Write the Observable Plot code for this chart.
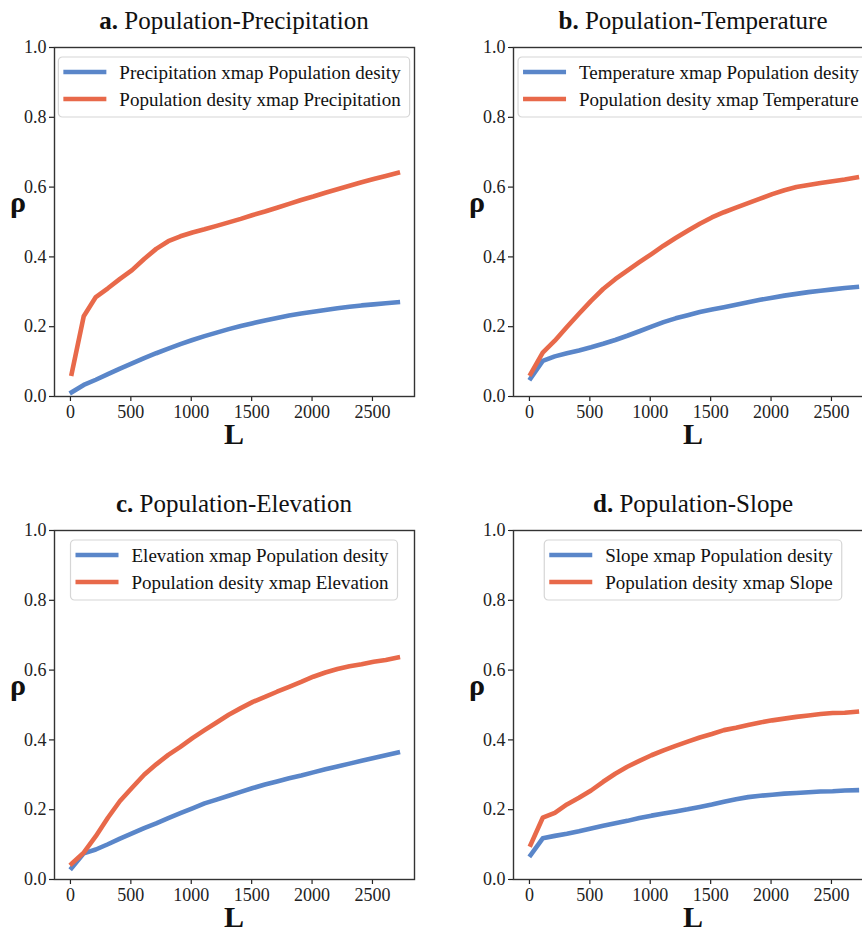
<!DOCTYPE html>
<html>
<head>
<meta charset="utf-8">
<script src="https://cdn.jsdelivr.net/npm/d3@7"></script>
<script src="https://cdn.jsdelivr.net/npm/@observablehq/plot@0.6"></script>
<style>
  html, body { margin: 0; padding: 0; background: #fff; }
  #root { position: relative; width: 862px; height: 933px; overflow: hidden; background: #fff; }
  #root > svg { position: absolute; }
</style>
</head>
<body>
<div id="root"></div>
<script>
// Lag L values
const L = [10,110,210,310,410,510,610,710,810,910,1010,1110,1210,1310,1410,1510,1610,1710,1810,1910,2010,2110,2210,2310,2410,2510,2610,2710];

const xTicks = [0, 500, 1000, 1500, 2000, 2500];
const yTicks = [0, 0.2, 0.4, 0.6, 0.8, 1.0];

// a. Population-Precipitation
const precipBlue = [0.012,0.033,0.048,0.064,0.080,0.095,0.110,0.124,0.137,0.150,0.162,0.173,0.183,0.193,0.202,0.210,0.218,0.225,0.232,0.238,0.243,0.248,0.253,0.257,0.261,0.264,0.267,0.270];
const precipOrange = [0.065,0.230,0.285,0.310,0.337,0.362,0.394,0.423,0.445,0.459,0.470,0.479,0.489,0.499,0.509,0.520,0.530,0.541,0.552,0.563,0.573,0.584,0.594,0.604,0.614,0.623,0.632,0.641];

// b. Population-Temperature
const tempBlue = [0.052,0.102,0.115,0.124,0.132,0.141,0.151,0.162,0.174,0.187,0.200,0.213,0.224,0.233,0.242,0.249,0.256,0.263,0.270,0.277,0.283,0.289,0.294,0.299,0.303,0.307,0.311,0.314];
const tempOrange = [0.065,0.126,0.160,0.199,0.237,0.274,0.308,0.336,0.361,0.385,0.408,0.432,0.454,0.475,0.495,0.513,0.528,0.541,0.554,0.567,0.580,0.591,0.600,0.606,0.612,0.617,0.622,0.628];

// c. Population-Elevation
const elevBlue = [0.033,0.075,0.086,0.101,0.117,0.132,0.147,0.161,0.176,0.190,0.204,0.218,0.229,0.240,0.251,0.262,0.272,0.281,0.290,0.298,0.307,0.316,0.324,0.332,0.340,0.348,0.356,0.364];
const elevOrange = [0.045,0.077,0.124,0.177,0.225,0.263,0.300,0.330,0.357,0.380,0.405,0.428,0.450,0.472,0.491,0.509,0.523,0.538,0.552,0.566,0.581,0.593,0.603,0.611,0.617,0.624,0.629,0.636];

// d. Population-Slope
const slopeBlue = [0.070,0.118,0.125,0.131,0.138,0.146,0.154,0.161,0.168,0.176,0.183,0.189,0.195,0.201,0.208,0.215,0.223,0.230,0.236,0.240,0.243,0.246,0.248,0.250,0.252,0.253,0.255,0.256];
const slopeOrange = [0.100,0.177,0.191,0.215,0.234,0.255,0.280,0.303,0.323,0.340,0.356,0.370,0.383,0.395,0.407,0.417,0.428,0.435,0.443,0.450,0.456,0.461,0.466,0.470,0.474,0.477,0.478,0.481];

const panelLetters = ["a.", "b.", "c.", "d."];
const panelTitles = ["Population-Precipitation", "Population-Temperature", "Population-Elevation", "Population-Slope"];
const blueLabels = ["Precipitation xmap Population desity", "Temperature xmap Population desity", "Elevation xmap Population desity", "Slope xmap Population desity"];
const orangeLabels = ["Population desity xmap Precipitation", "Population desity xmap Temperature", "Population desity xmap Elevation", "Population desity xmap Slope"];
const xLabel = "L";
const yLabel = "ρ";

const BLUE = "#5a86c9";
const ORANGE = "#e8694a";
const FONT = "'Liberation Serif', 'Times New Roman', serif";

const series = [
  [precipBlue, precipOrange],
  [tempBlue, tempOrange],
  [elevBlue, elevOrange],
  [slopeBlue, slopeOrange]
];
const offsets = [[0, 0], [459, 0], [0, 483], [459, 483]];

const W = 431, H = 466, ML = 54, MR = 17, MT = 47, MB = 70;
const root = document.getElementById("root");

series.forEach(([blue, orange], k) => {
  const rowsB = L.map((l, i) => ({L: l, rho: blue[i]}));
  const rowsO = L.map((l, i) => ({L: l, rho: orange[i]}));
  const h = offsets[k][1] > 0 ? 450 : H;
  const svg = Plot.plot({
    width: W, height: h,
    marginLeft: ML, marginRight: MR, marginTop: MT, marginBottom: h - MT - 349,
    style: {fontFamily: FONT, fontSize: "18px", color: "#222", background: "transparent", overflow: "visible"},
    x: {domain: [-132, 2848], ticks: xTicks, tickFormat: d => String(d), label: null},
    y: {domain: [0, 1], ticks: yTicks, tickFormat: d3.format(".1f"), label: null},
    marks: [
      Plot.line(rowsB, {x: "L", y: "rho", stroke: BLUE, strokeWidth: 4.6, strokeLinecap: "square", strokeLinejoin: "round"}),
      Plot.line(rowsO, {x: "L", y: "rho", stroke: ORANGE, strokeWidth: 4.6, strokeLinecap: "square", strokeLinejoin: "round"}),
      Plot.axisX({ticks: xTicks, tickSize: 5, tickPadding: 4, tickFormat: d => String(d), fontSize: 18, label: null, strokeWidth: 1.2}),
      Plot.axisY({ticks: yTicks, tickSize: 5, tickPadding: 3, tickFormat: d3.format(".1f"), fontSize: 18, label: null, strokeWidth: 1.2}),
      Plot.frame({stroke: "#333", strokeWidth: 1.4})
    ]
  });
  svg.style.left = offsets[k][0] + "px";
  svg.style.top = offsets[k][1] + "px";
  root.appendChild(svg);

  const s = d3.select(svg);
  const cx = ML + (W - ML - MR) / 2;

  // Title
  const t = s.append("text").attr("x", cx).attr("y", 29).attr("text-anchor", "middle")
    .attr("font-family", FONT).attr("font-size", 25).attr("fill", "#111");
  t.append("tspan").attr("font-weight", "bold").text(panelLetters[k]);
  t.append("tspan").text(" " + panelTitles[k]);

  // Axis labels
  s.append("text").attr("x", 18).attr("y", 212).attr("text-anchor", "middle")
    .attr("font-family", FONT).attr("font-size", 30).attr("font-weight", "bold").attr("fill", "#111").text(yLabel);
  s.append("text").attr("x", cx).attr("y", 444).attr("text-anchor", "middle")
    .attr("font-family", FONT).attr("font-size", 30).attr("font-weight", "bold").attr("fill", "#111").text(xLabel);

  // Legend
  const g = s.append("g").attr("text-anchor", "start");
  const rect = g.append("rect");
  const labels = [blueLabels[k], orangeLabels[k]];
  const colors = [BLUE, ORANGE];
  const rowY = [15, 42];
  const texts = labels.map((lab, i) => g.append("text")
    .attr("text-anchor", "start")
    .attr("font-family", FONT).attr("font-size", 19).attr("fill", "#111")
    .attr("x", 61).attr("y", rowY[i] + 6.5).text(lab));
  const tw = d3.max(texts, tt => tt.node().getComputedTextLength());
  const bw = tw + 70;
  const bx = cx - bw / 2, by = 57;
  g.attr("transform", `translate(${bx},${by})`);
  rect.attr("x", 0).attr("y", 0).attr("width", bw).attr("height", 60).attr("rx", 4)
    .attr("fill", "#fff").attr("fill-opacity", 0.85).attr("stroke", "#d6d6d6").attr("stroke-width", 1.2);
  labels.forEach((lab, i) => {
    g.append("line").attr("x1", 5).attr("x2", 48).attr("y1", rowY[i]).attr("y2", rowY[i])
      .attr("stroke", colors[i]).attr("stroke-width", 4.6);
  });
});
</script>
</body>
</html>
